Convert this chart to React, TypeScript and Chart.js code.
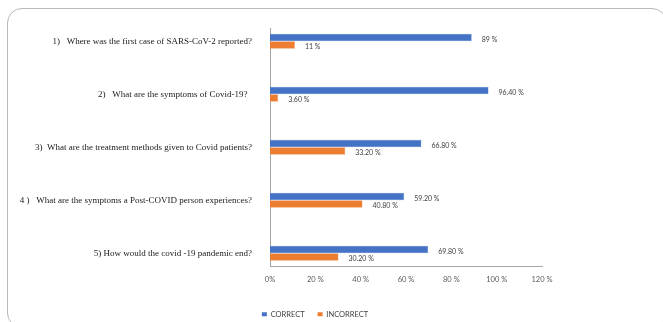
import React, { useEffect, useRef } from "react";
import { Chart, registerables } from "chart.js";

Chart.register(...registerables);

const categories = [
  "1)   Where was the first case of SARS-CoV-2 reported?",
  "2)   What are the symptoms of Covid-19?  ",
  "3)  What are the treatment methods given to Covid patients?",
  "4 )   What are the symptoms a Post-COVID person experiences?",
  "5) How would the covid -19 pandemic end?",
];
const correct = [89, 96.4, 66.8, 59.2, 69.8];
const incorrect = [11, 3.6, 33.2, 40.8, 30.2];
const xTicks = ["0%", "20 %", "40 %", "60 %", "80 %", "100 %", "120 %"];
const seriesNames = ["CORRECT", "INCORRECT"];

const fmt = (v: number) => (Number.isInteger(v) ? `${v} %` : `${v.toFixed(2)} %`);

const valueLabels = {
  id: "valueLabels",
  afterDatasetsDraw(chart: any) {
    const ctx = chart.ctx;
    ctx.save();
    ctx.font = "7px Lato";
    ctx.fillStyle = "#404040";
    ctx.textAlign = "left";
    ctx.textBaseline = "middle";
    chart.data.datasets.forEach((ds: any, di: number) => {
      const meta = chart.getDatasetMeta(di);
      meta.data.forEach((el: any, i: number) => {
        const v = ds.data[i].x;
        ctx.fillText(fmt(v), el.x + 10, el.y + 2);
      });
    });
    ctx.restore();
  },
};

const legendShift = {
  id: "legendShift",
  beforeDraw(chart: any) {
    const lg = chart.legend;
    if (lg && !lg._shifted) {
      lg.left += 44;
      lg.right += 44;
      lg._shifted = true;
    }
  },
  afterLayout(chart: any) {
    if (chart.legend) chart.legend._shifted = false;
  },
};

export default function App() {
  const ref = useRef<HTMLCanvasElement | null>(null);
  useEffect(() => {
    if (!ref.current) return;
    const chart = new Chart(ref.current, {
      type: "bar",
      data: {
        datasets: [
          {
            label: seriesNames[0],
            data: correct.map((v, i) => ({ x: v, y: i })),
            backgroundColor: "#4472C4",
            borderColor: "#6f93d6",
            borderWidth: 0.5,
          },
          {
            label: seriesNames[1],
            data: incorrect.map((v, i) => ({ x: v, y: i })),
            backgroundColor: "#ED7D31",
            borderColor: "#f39a5c",
            borderWidth: 0.5,
          },
        ],
      },
      options: {
        indexAxis: "y",
        animation: false,
        responsive: false,
        maintainAspectRatio: false,
        layout: { padding: { top: 28, right: 121, left: 0, bottom: -6 } },
        datasets: {
          bar: { categoryPercentage: 0.285, barPercentage: 1, grouped: true },
        },
        scales: {
          y: {
            type: "linear",
            reverse: true,
            offset: false,
            min: -0.25,
            max: 4.25,
            afterFit: (s: any) => {
              s.width = 270;
            },
            afterBuildTicks: (s: any) => {
              s.ticks = categories.map((_, i) => ({ value: i }));
            },
            ticks: {
              padding: 10,
              color: "#1a1a1a",
              font: { family: "Liberation Serif", size: 9 },
              callback: (v: any) => categories[v as number] ?? "",
            },
            grid: { display: false },
            border: { display: true, color: "#a6a6a6", width: 1 },
          },
          x: {
            type: "linear",
            min: 0,
            max: 120,
            afterFit: (s: any) => {
              s.height = 31;
            },
            afterBuildTicks: (s: any) => {
              s.ticks = xTicks.map((_, i) => ({ value: i * 20 }));
            },
            ticks: {
              padding: 1,
              color: "#595959",
              font: { family: "Lato", size: 7.5 },
              callback: (v: any) => xTicks[Math.round((v as number) / 20)] ?? "",
              maxRotation: 0,
            },
            grid: { display: false },
            border: { display: true, color: "#a6a6a6", width: 1 },
          },
        },
        plugins: {
          legend: {
            position: "bottom",
            labels: {
              boxWidth: 5,
              boxHeight: 4,
              padding: 13,
              color: "#404040",
              font: { family: "Lato", size: 7.5 },
              generateLabels: (chart: any) =>
                chart.data.datasets.map((ds: any, i: number) => ({
                  text: ds.label,
                  fillStyle: ds.backgroundColor,
                  strokeStyle: ds.backgroundColor,
                  lineWidth: 0,
                  hidden: false,
                  datasetIndex: i,
                  fontColor: "#404040",
                })),
            },
          },
          tooltip: { enabled: false },
        },
      },
      plugins: [valueLabels, legendShift],
    });
    return () => chart.destroy();
  }, []);

  return (
    <div style={{ position: "absolute", left: 0, top: 0, width: 663, height: 322, overflow: "hidden", background: "#fff" }}>
      <div
        style={{
          position: "absolute",
          left: 7,
          top: 8,
          width: 660,
          height: 320,
          border: "1.5px solid #b8b8b8",
          borderRadius: 15,
          boxSizing: "border-box",
        }}
      />
      <canvas ref={ref} width={663} height={322} style={{ position: "absolute", left: 0, top: 0 }} />
    </div>
  );
}
